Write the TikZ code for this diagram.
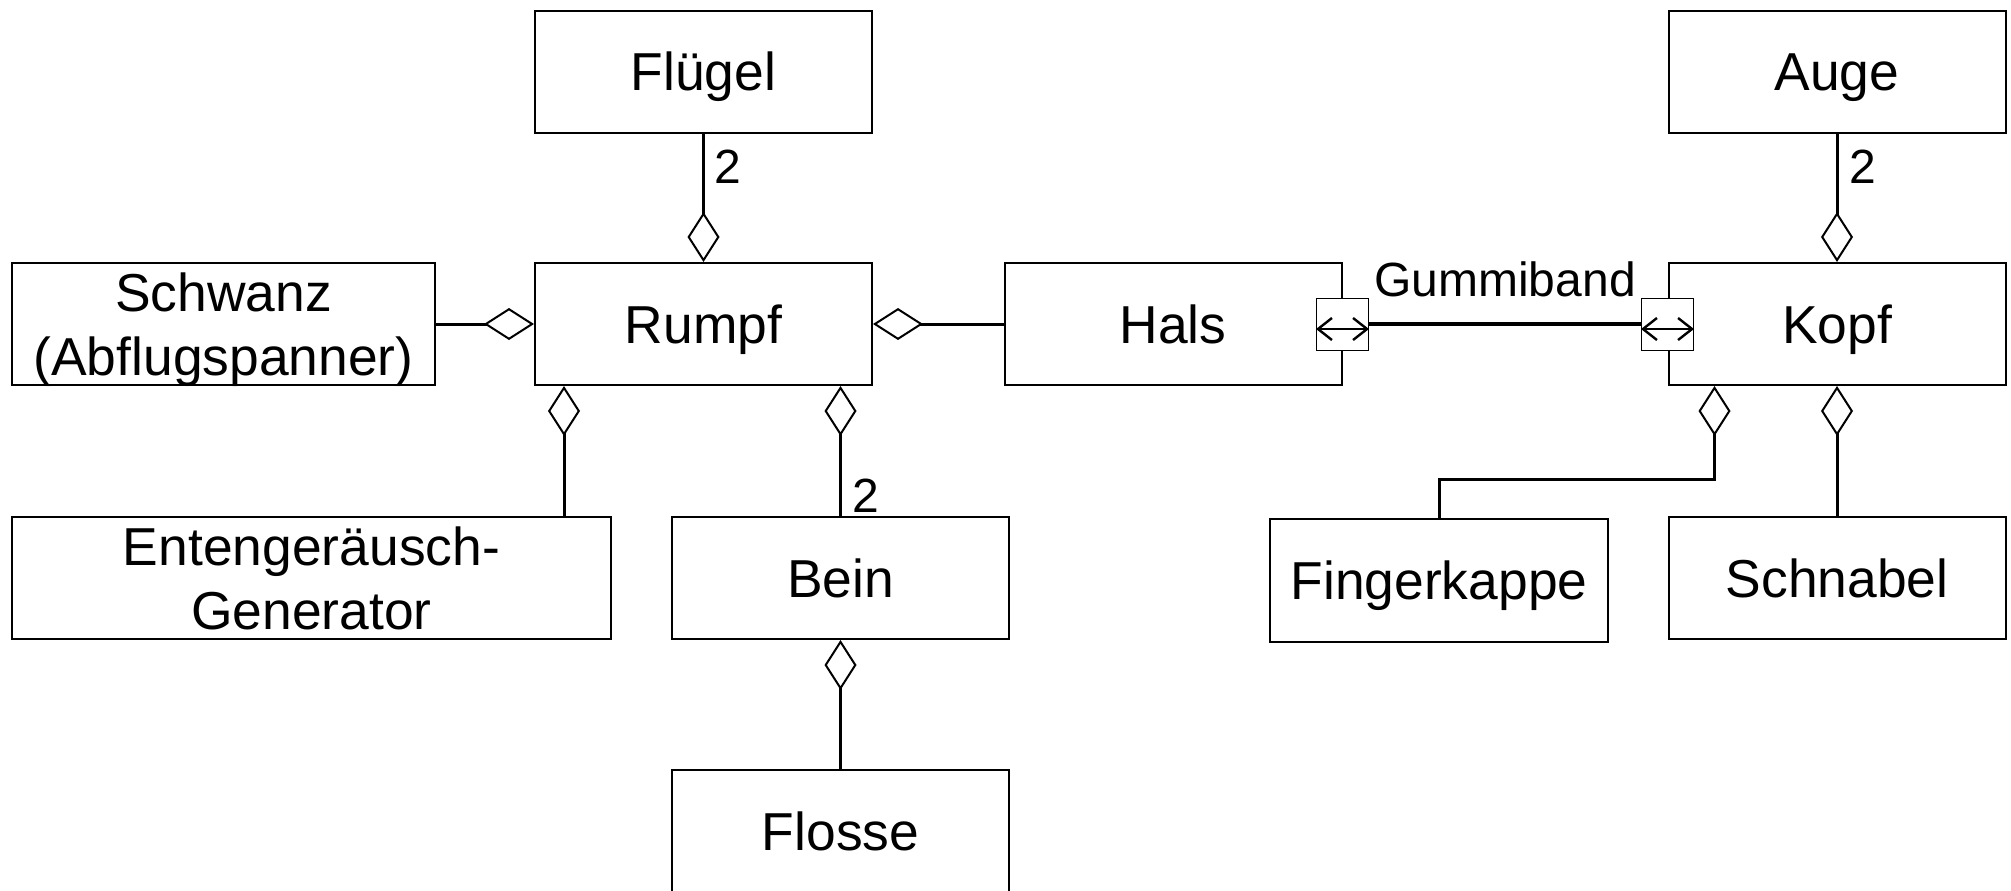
\documentclass[tikz,border=0pt]{standalone}
\usepackage{fontspec}
\setmainfont{Liberation Sans}
\usetikzlibrary{arrows.meta,calc,positioning}
\tikzset{
  box/.style={draw, line width=1pt, fill=white, minimum width=168.5pt, minimum height=61pt,
    inner sep=0pt, align=center, font=\fontsize{26.7pt}{32pt}\selectfont,
    text height=19.1pt, text depth=0pt},
  twoline/.style={text height=51.1pt, text depth=0pt},
  agg/.style={line width=1.5pt, -{Diamond[open, length=25pt, width=16pt, line width=1pt]}},
  port/.style={draw, line width=0.5pt, fill=white, minimum width=26pt, minimum height=26pt, inner sep=0pt},
  rubber/.style={line width=2pt},
  lbl/.style={inner sep=0pt, font=\fontsize{24pt}{28pt}\selectfont},
  barb/.style={line width=1.2pt, {Straight Barb[length=7pt,width=11pt]}-{Straight Barb[length=7pt,width=11pt]}}
}
\begin{document}
\begin{tikzpicture}[x=0.5pt, y=-0.5pt]
\useasboundingbox (0,0) rectangle (2011,890);
\clip (0,0) rectangle (2011,890);
% boxes
\node[box] (fluegel) at (703.5,71.5) {Flügel};
\node[box] (rumpf) at (703.5,324) {Rumpf};
\node[box, twoline, minimum width=211.5pt] (schwanz) at (223.5,324) {Schwanz\\(Abflugspanner)};
\node[box] (hals) at (1173,324) {Hals};
\node[box] (kopf) at (1837,324) {Kopf};
\node[box] (auge) at (1837,71.5) {Auge};
\node[box, twoline, minimum width=299.5pt] (enten) at (311.5,578) {Entengeräusch-\\Generator};
\node[box] (bein) at (840.5,578) {Bein};
\node[box] (flosse) at (840.5,831) {Flosse};
\node[box, minimum width=169pt, minimum height=61.5pt] (fk) at (1439,580.5) {Fingerkappe};
\node[box] (schnabel) at (1837,578) {Schnabel};
% helper coordinates
\coordinate (r1) at ($(rumpf.south west)+(30,0)$);
\coordinate (k1) at ($(kopf.south west)+(47,0)$);
% aggregations
\draw[agg] (fluegel) -- (rumpf);
\draw[agg] (schwanz) -- (rumpf);
\draw[agg] (hals) -- (rumpf);
\draw[agg] (enten.north -| r1) -- (r1);
\draw[agg] (bein) -- (bein |- rumpf.south);
\draw[agg] (flosse) -- (bein);
\draw[agg] (auge) -- (kopf);
\draw[agg] (schnabel) -- (kopf);
\draw[agg] (fk.north) -- ++(0,-39) -| (k1);
% multiplicities
\node[lbl, anchor=west] (m1) at ($(fluegel.south)+(11,33)$) {2};
\node[lbl, anchor=west] (m2) at ($(bein.north)+(12,-20)$) {2};
\node[lbl, anchor=west] (m3) at ($(auge.south)+(12,33)$) {2};
% ports and rubber band
\node[port] (lp) at (hals.east) {};
\node[port] (rp) at (kopf.west) {};
\draw[rubber] (lp) -- (rp) node[midway, above=12.5pt, lbl] (gb) {Gummiband};
\draw[barb] ($(lp.west)+(0,5)$) -- ($(lp.east)+(0,5)$);
\draw[barb] ($(rp.west)+(0,5)$) -- ($(rp.east)+(0,5)$);
\end{tikzpicture}
\end{document}
